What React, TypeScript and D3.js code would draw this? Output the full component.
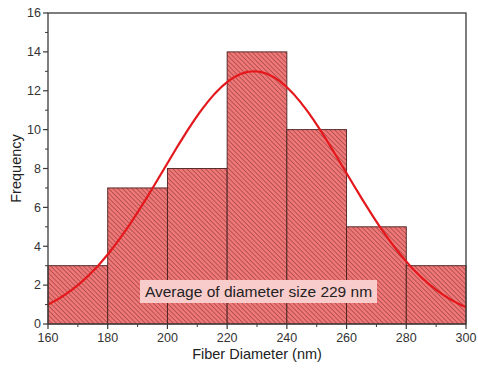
import React from "react";
import * as d3 from "d3";

const binStarts = [160, 180, 200, 220, 240, 260, 280];
const binWidth = 20;
const counts = [3, 7, 8, 14, 10, 5, 3];
const xTicks = [160, 180, 200, 220, 240, 260, 280, 300];
const yTicks = [0, 2, 4, 6, 8, 10, 12, 14, 16];
const fitMean = 229;
const fitSd = 30.5;
const fitPeak = 13;
const labelText = "Average of diameter size 229 nm";

const W = 478, H = 370;
const M = { left: 48, right: 12, top: 13, bottom: 46 };

export default function App() {
  const x = d3.scaleLinear().domain([160, 300]).range([M.left, W - M.right]);
  const y = d3.scaleLinear().domain([0, 16]).range([H - M.bottom, M.top]);
  const curvePts = d3.range(160, 300.01, 1).map((v) => [v, fitPeak * Math.exp(-((v - fitMean) ** 2) / (2 * fitSd * fitSd))]);
  const line = d3.line<number[]>().x((d) => x(d[0])).y((d) => y(d[1])).curve(d3.curveBasis);
  const xMinor = d3.range(170, 300, 20);
  const yMinor = d3.range(1, 16, 2);
  const axisColor = "#3a3a3a";
  const bottom = H - M.bottom;
  return (
    <svg width={W} height={H} style={{ position: "absolute", left: 0, top: 0, background: "#fff" }} fontFamily="'Liberation Sans', Arial, sans-serif">
      <defs>
        <pattern id="hatch" patternUnits="userSpaceOnUse" width="4" height="3.3" patternTransform="rotate(45)">
          <rect width="4" height="3.3" fill="#f27878" />
          <line x1="0" y1="0.5" x2="4" y2="0.5" stroke="#7a3434" strokeWidth="0.6" />
        </pattern>
      </defs>
      {binStarts.map((b, i) => (
        <rect key={b} x={x(b)} y={y(counts[i])} width={x(b + binWidth) - x(b)} height={y(0) - y(counts[i])}
          fill="url(#hatch)" stroke="#4a2020" strokeWidth={0.9} />
      ))}
      <path d={line(curvePts) || ""} fill="none" stroke="#e4181c" strokeWidth={2.2} />
      <rect x={M.left} y={M.top} width={W - M.left - M.right} height={bottom - M.top} fill="none" stroke={axisColor} strokeWidth={1.3} />
      {xTicks.map((t) => (
        <g key={t}>
          <line x1={x(t)} x2={x(t)} y1={bottom} y2={bottom + 5} stroke={axisColor} strokeWidth={1.2} />
          <text x={x(t)} y={bottom + 17.5} textAnchor="middle" fontSize={12.5} fill="#333">{t}</text>
        </g>
      ))}
      {xMinor.map((t) => (
        <line key={t} x1={x(t)} x2={x(t)} y1={bottom} y2={bottom + 3} stroke={axisColor} strokeWidth={1} />
      ))}
      {yTicks.map((t) => (
        <g key={t}>
          <line x1={M.left - 5} x2={M.left} y1={y(t)} y2={y(t)} stroke={axisColor} strokeWidth={1.2} />
          <text x={M.left - 7} y={y(t) + 4.3} textAnchor="end" fontSize={12.5} fill="#333">{t}</text>
        </g>
      ))}
      {yMinor.map((t) => (
        <line key={t} x1={M.left - 3} x2={M.left} y1={y(t)} y2={y(t)} stroke={axisColor} strokeWidth={1} />
      ))}
      <text x={(M.left + W - M.right) / 2} y={359} textAnchor="middle" fontSize={14.5} fill="#222">Fiber Diameter (nm)</text>
      <text transform={`translate(21,${(M.top + bottom) / 2}) rotate(-90)`} textAnchor="middle" fontSize={14.5} fill="#222">Frequency</text>
      <rect x={140} y={280} width={237} height={23} fill="#f9cccc" />
      <text x={258.5} y={297} textAnchor="middle" fontSize={15.5} fill="#222">{labelText}</text>
    </svg>
  );
}
